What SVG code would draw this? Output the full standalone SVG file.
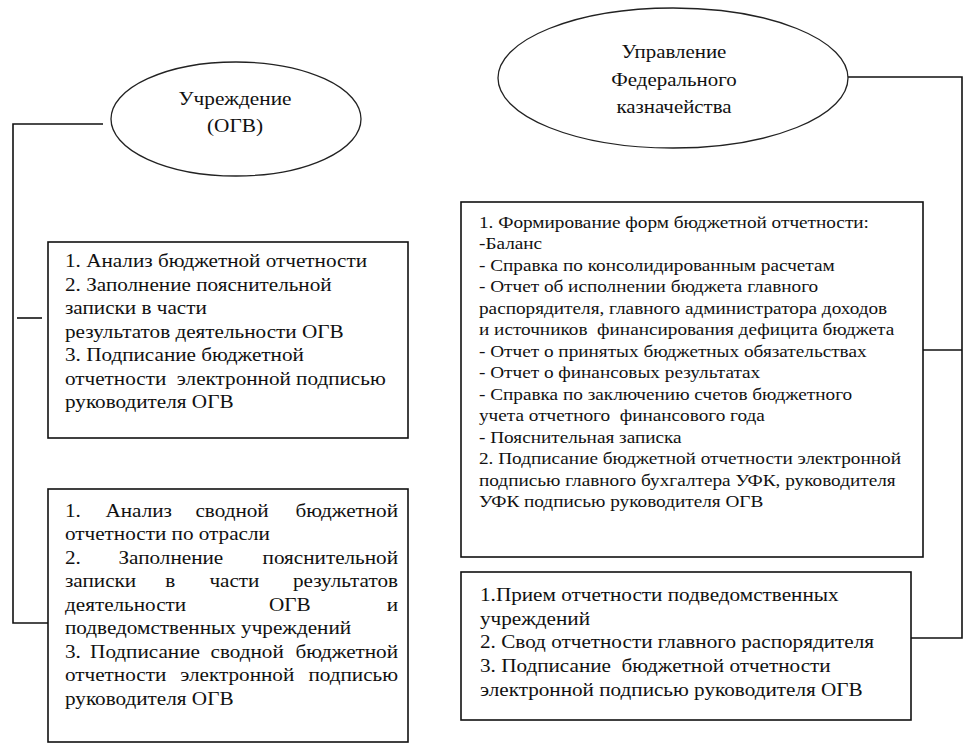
<svg xmlns="http://www.w3.org/2000/svg" width="970" height="751" viewBox="0 0 970 751">
<style>
.bg{fill:#fff}
.ell{fill:#fff;stroke:#222;stroke-width:1.3}
.box{fill:#fff;stroke:#111;stroke-width:1.6}
.ln{fill:none;stroke:#111;stroke-width:1.6}
.tx{font-family:'Liberation Serif','Times New Roman',serif;fill:#111}
.t1{font-size:19px}
.t2{font-size:17.5px}
.te{font-size:19px;text-anchor:middle}
.r{text-anchor:end}
</style>
<rect class="bg" x="0" y="0" width="970" height="751"/>
<g id="connectors">
<polyline class="ln" points="103,124 13,124 13,623 48,623"/>
<line class="ln" x1="17" y1="318" x2="42" y2="318"/>
<polyline class="ln" points="848,77 962,77 962,638 911,638"/>
<line class="ln" x1="923" y1="350" x2="962" y2="350"/>
</g>
<g id="node-ogv" class="tx">
<ellipse class="ell" cx="236" cy="119" rx="125" ry="57"/>
<text class="te" transform="translate(235,105) scale(1.12,1)">Учреждение</text>
<text class="te" transform="translate(235,132) scale(1.12,1)">(ОГВ)</text>
</g>
<g id="node-ufk" class="tx">
<ellipse class="ell" cx="673" cy="78" rx="175" ry="70"/>
<text class="te" transform="translate(674,58) scale(1.1,1)">Управление</text>
<text class="te" transform="translate(674,85.5) scale(1.1,1)">Федерального</text>
<text class="te" transform="translate(674,112.5) scale(1.1,1)">казначейства</text>
</g>
<g id="box-ogv-1" class="tx">
<rect class="box" x="48" y="242" width="360" height="196"/>
<g class="t1" transform="translate(65,0) scale(1.115,1)">
<text x="0" y="267.5">1. Анализ бюджетной отчетности</text>
<text x="0" y="291">2. Заполнение пояснительной</text>
<text x="0" y="314.4">записки в части</text>
<text x="0" y="337.8">результатов деятельности ОГВ</text>
<text x="0" y="361.2">3. Подписание бюджетной</text>
<text x="0" y="384.6" xml:space="preserve">отчетности  электронной подписью</text>
<text x="0" y="408">руководителя ОГВ</text>
</g>
</g>
<g id="box-ogv-2" class="tx">
<rect class="box" x="48" y="489" width="360" height="253"/>
<g class="t1" transform="translate(65,0) scale(1.115,1)">
<text x="0" y="517">1.</text>
<text x="36.3" y="517">Анализ</text>
<text x="117" y="517">сводной</text>
<text class="r" x="298.7" y="517">бюджетной</text>
<text x="0" y="540.5">отчетности по отрасли</text>
<text x="0" y="564">2.</text>
<text x="48" y="564">Заполнение</text>
<text class="r" x="298.7" y="564">пояснительной</text>
<text x="0" y="587.5">записки</text>
<text x="90" y="587.5">в</text>
<text x="129.5" y="587.5">части</text>
<text class="r" x="298.7" y="587.5">результатов</text>
<text x="0" y="611">деятельности</text>
<text x="183" y="611">ОГВ</text>
<text class="r" x="298.7" y="611">и</text>
<text x="0" y="634.5">подведомственных учреждений</text>
<text x="0" y="658">3.</text>
<text x="22.5" y="658">Подписание</text>
<text x="130.5" y="658">сводной</text>
<text class="r" x="298.7" y="658">бюджетной</text>
<text x="0" y="681.5">отчетности</text>
<text x="103.4" y="681.5">электронной</text>
<text class="r" x="298.7" y="681.5">подписью</text>
<text x="0" y="705">руководителя ОГВ</text>
</g>
</g>
<g id="box-ufk-1" class="tx">
<rect class="box" x="461" y="202" width="462" height="355"/>
<g class="t2" transform="translate(479,0) scale(1.1,1)">
<text x="0" y="228">1. Формирование форм бюджетной отчетности:</text>
<text x="0" y="249.5">-Баланс</text>
<text x="0" y="271">- Справка по консолидированным расчетам</text>
<text x="0" y="292.5">- Отчет об исполнении бюджета главного</text>
<text x="0" y="314">распорядителя, главного администратора доходов</text>
<text x="0" y="335.5" xml:space="preserve">и источников  финансирования дефицита бюджета</text>
<text x="0" y="357">- Отчет о принятых бюджетных обязательствах</text>
<text x="0" y="378.5">- Отчет о финансовых результатах</text>
<text x="0" y="400">- Справка по заключению счетов бюджетного</text>
<text x="0" y="421.5" xml:space="preserve">учета отчетного  финансового года</text>
<text x="0" y="443">- Пояснительная записка</text>
<text x="0" y="464.5">2. Подписание бюджетной отчетности электронной</text>
<text x="0" y="486">подписью главного бухгалтера УФК, руководителя</text>
<text x="0" y="507.5">УФК подписью руководителя ОГВ</text>
</g>
</g>
<g id="box-ufk-2" class="tx">
<rect class="box" x="461" y="572" width="450" height="148"/>
<g class="t1" transform="translate(480,0) scale(1.115,1)">
<text x="0" y="601">1.Прием отчетности подведомственных</text>
<text x="0" y="625">учреждений</text>
<text x="0" y="648.5">2. Свод отчетности главного распорядителя</text>
<text x="0" y="672.5" xml:space="preserve">3. Подписание  бюджетной отчетности</text>
<text x="0" y="696">электронной подписью руководителя ОГВ</text>
</g>
</g>
</svg>
